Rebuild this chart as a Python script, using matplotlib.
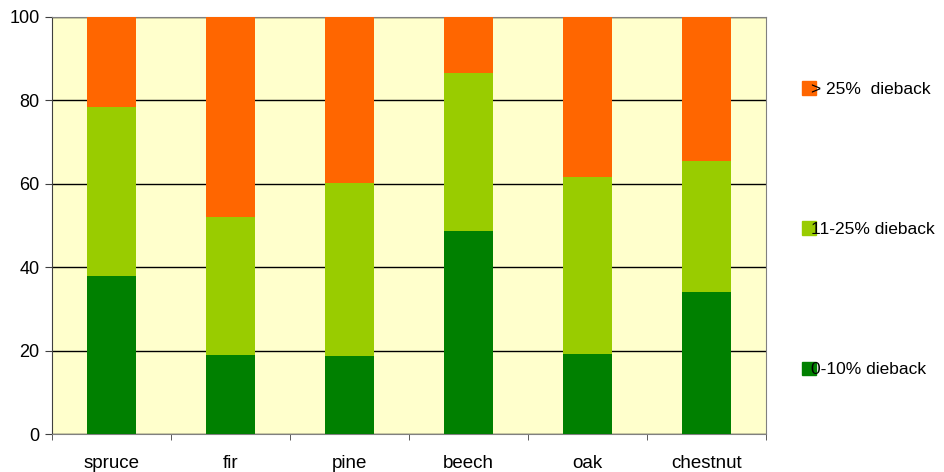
import numpy as np
import matplotlib
matplotlib.use("Agg")
import matplotlib.pyplot as plt
from matplotlib.patches import Patch

plt.rcParams['font.family'] = ['Liberation Sans', 'DejaVu Sans']

species = ["spruce", "fir", "pine", "beech", "oak", "chestnut"]
low = [38, 19, 18.7, 48.7, 19.2, 34.1]        # 0-10% dieback
mid = [40.5, 33, 41.5, 37.9, 42.5, 31.4]      # 11-25% dieback
high = [21.5, 48, 39.8, 13.4, 38.3, 34.5]     # > 25% dieback

labels = ["0-10% dieback", "11-25% dieback", "> 25%  dieback"]
colors = ["#008000", "#99CC00", "#FF6600"]

fig = plt.figure(figsize=(9.44, 4.72), dpi=100)
ax = fig.add_axes([0.0551, 0.0805, 0.7563, 0.8835])
ax.set_facecolor("#FFFFCC")

x = np.arange(len(species))
bottom = np.zeros(len(species))
for vals, c in zip([low, mid, high], colors):
    ax.bar(x, vals, width=0.41, bottom=bottom, color=c, zorder=3)
    bottom += np.array(vals)

ax.set_xlim(-0.5, len(species) - 0.5)
ax.set_ylim(0, 100)
ax.set_yticks(np.arange(0, 101, 20))
ax.yaxis.grid(True, color="black", linewidth=1, zorder=1)
ax.set_axisbelow(True)

ax.set_xticks(x)
ax.set_xticklabels(species)
ax.set_xticks(np.arange(-0.5, len(species)), minor=True)
ax.tick_params(axis="x", which="major", length=0, pad=15, labelsize=13.5)
ax.tick_params(axis="x", which="minor", length=4, direction="out", color="#404040")
ax.tick_params(axis="y", length=5, pad=4, labelsize=13, color="#404040")

for s in ["top", "right", "bottom"]:
    ax.spines[s].set_color("#808080")
ax.spines["left"].set_color("#404040")

handles = [Patch(color=c) for c in colors][::-1]
fig.legend(handles, labels[::-1], loc="upper left", bbox_to_anchor=(0.84, 0.846),
           frameon=False, fontsize=12.5, handlelength=0.85, handleheight=0.85,
           handletextpad=-0.3, labelspacing=7.15, borderpad=0)

fig.savefig("out.png", dpi=100)
